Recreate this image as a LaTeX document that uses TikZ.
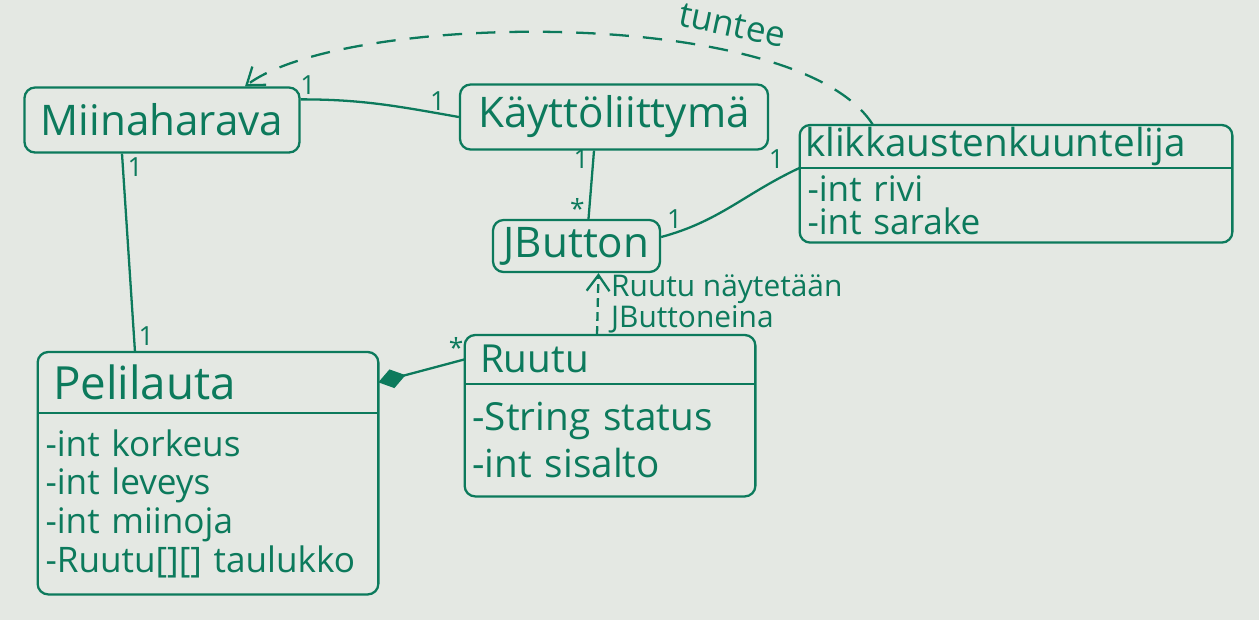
\documentclass[tikz,border=0pt]{standalone}
\usepackage{fontspec}
\setmainfont{Open Sans}
\usetikzlibrary{positioning,arrows.meta}
\definecolor{ink}{RGB}{12,122,92}
\definecolor{paper}{RGB}{228,232,227}
\tikzset{
  ink/.style={draw=ink, line width=1.3pt},
  klass/.style={ink, text=ink, rounded corners=6pt, inner sep=1pt, font=\fontsize{24}{26}\selectfont},
  classname/.style={text=ink, anchor=north, align=left, inner xsep=0.3cm, inner ysep=1pt, font=\fontsize{22}{24}\selectfont},
  fields/.style={text=ink, align=left, inner xsep=0.15cm, inner ysep=1pt},
  mult/.style={text=ink, font=\fontsize{15}{15}\selectfont, inner sep=2pt},
  note/.style={text=ink, align=left, inner sep=1pt},
  loosedash/.style={dash pattern=on 11pt off 8pt}
}
\begin{document}
\begin{tikzpicture}[>={Straight Barb[length=9pt,width=13pt]}]
\fill[paper] (0,0) rectangle (25.18,-12.4);
\useasboundingbox (0,0) rectangle (25.18,-12.4);

% plain classes
\node[klass, minimum width=5.5cm, minimum height=1.3cm] (mina) at (3.24,-2.40) {Miinaharava};
\node[klass, minimum width=6.16cm, minimum height=1.3cm] (kay) at (12.28,-2.34) {Käyttöliittymä};
\node[klass, minimum width=3.34cm, minimum height=1.04cm] (jb) at (11.53,-4.92) {JButton};

% classes with fields
\node[classname, inner xsep=0.1cm, text width=8.44cm, minimum height=0.72cm] (klik) at (20.32,-2.5) {klikkaustenkuuntelija};
\node[fields, text width=8.34cm, minimum height=1.48cm, below=0pt of klik, font=\fontsize{20}{19}\selectfont] (klik-a) {-int rivi\\-int sarake};

\node[classname, text width=6.2cm, minimum height=1.2cm, font=\fontsize{26}{28}\selectfont] (pel) at (4.16,-7.04) {Pelilauta};
\node[fields, text width=6.5cm, minimum height=3.62cm, below=0pt of pel, font=\fontsize{20}{22}\selectfont] (pel-a) {-int korkeus\\-int leveys\\-int miinoja\\-Ruutu[][] taulukko};

\node[classname, text width=5.2cm, minimum height=0.96cm] (ru) at (12.2,-6.7) {Ruutu};
\node[fields, text width=5.5cm, minimum height=2.24cm, below=0pt of ru, font=\fontsize{22}{27}\selectfont] (ru-a) {-String status\\-int sisalto};

\foreach \cls in {klik,pel,ru} {
  \draw[ink, rounded corners=6pt] (\cls.north west) rectangle (\cls-a.south east);
  \draw[ink] (\cls.south west) -- (\cls.south east);
}

% associations
\draw[ink] ([yshift=-0.26cm]mina.north east) to[out=0,in=170]
  node[mult, pos=0.04, above] (m1) {1} node[mult, pos=0.95, above left] (m2) {1} (kay.west);
\draw[ink] ([xshift=-0.8cm]mina.south) --
  node[mult, pos=0.07, right] (m3) {1} node[mult, pos=0.92, right] (m4) {1} ([xshift=-1.46cm]pel.north);
\draw[ink] ([xshift=-0.4cm]kay.south) --
  node[mult, pos=0.12, left] (m5) {1} node[mult, pos=0.85, left] (m6) {*} ([xshift=0.24cm]jb.north);
\draw[ink] ([yshift=0.18cm]jb.east) to[out=15,in=205]
  node[mult, pos=0.08, above] (m7) {1} node[mult, pos=0.93, above left] (m8) {1} (klik.south west);
\draw[ink, {Diamond[length=16pt,width=11pt]}-] (pel.east) --
  node[mult, pos=0.9, above] (m9) {*} (ru.west);

% dependencies
\draw[ink, dash pattern=on 5pt off 3pt, ->] ([xshift=-0.26cm]ru.north) --
  node[note, right=6pt, font=\fontsize{17}{16}\selectfont] (why) {Ruutu näytetään\\JButtoneina} ([xshift=0.44cm]jb.south);
\draw[ink, loosedash, ->] ([xshift=-2.86cm]klik.north) .. controls +(-1.5,2.4) and +(2.0,1.5) .. ([xshift=1.66cm]mina.north);
\node[note, rotate=-12, font=\fontsize{20}{20}\selectfont] (tun) at (14.65,-0.5) {tuntee};
\end{tikzpicture}
\end{document}
